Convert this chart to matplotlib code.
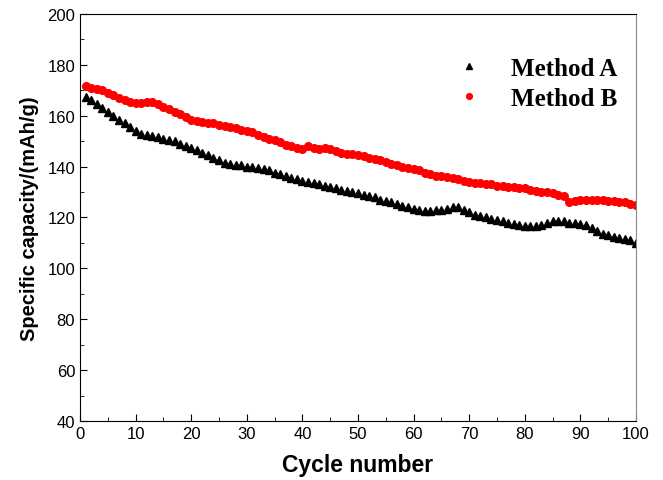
import matplotlib
matplotlib.use("Agg")
import matplotlib.pyplot as plt
from matplotlib.ticker import MultipleLocator

cycles = list(range(1, 101))

method_a = [
    167.5, 166, 164.5, 163, 161.5, 160, 158.5, 157, 155.5, 154,
    153, 152.5, 152, 151.5, 151, 150.5, 150, 149, 148, 147.5,
    146.5, 145.5, 144.5, 143.5, 142.5, 141.5, 141, 140.5, 140.5, 140,
    140, 139.5, 139, 138.5, 137.5, 137, 136.5, 135.5, 135, 134.5,
    134, 133.5, 133, 132.5, 132, 131.5, 131, 130.5, 130, 129.5,
    129, 128.5, 128, 127, 126.5, 126, 125.5, 124.5, 124, 123.5,
    123, 122.5, 122.5, 123, 123, 123.5, 124, 124, 123, 122,
    121, 120.5, 120, 119.5, 119, 118.5, 118, 117.5, 117, 116.5,
    116.5, 116.5, 117, 118, 118.5, 118.5, 118.5, 118, 118, 117.5,
    117, 116, 114.5, 113.5, 113, 112.5, 112, 111.5, 111, 110,
]

method_b = [
    171.5, 171, 170.5, 170, 169, 168, 167, 166, 165.5, 165,
    165, 165.5, 165.5, 164.5, 163.5, 162.5, 161.5, 160.5, 159.5, 158.5,
    158, 157.5, 157, 157, 156.5, 156, 155.5, 155, 154.5, 154,
    153.5, 152.5, 151.5, 151, 150.5, 149.5, 148.5, 148, 147.5, 147,
    148, 147.5, 147, 147.5, 147, 146, 145.5, 145, 145, 144.5,
    144, 143.5, 143, 142.5, 142, 141, 140.5, 140, 139.5, 139,
    138.5, 137.5, 137, 136.5, 136.5, 136, 135.5, 135, 134.5, 134,
    133.5, 133.5, 133, 133, 132.5, 132.5, 132, 132, 131.5, 131.5,
    131, 130.5, 130, 130, 129.5, 129, 128.5, 126, 126.5, 127,
    127, 127, 127, 127, 126.5, 126.5, 126, 126, 125.5, 125,
]

fig = plt.figure(figsize=(6.63, 4.81), dpi=100)
ax = fig.add_axes([0.1207, 0.1227, 0.8386, 0.8461])

ax.plot(cycles, method_a, linestyle="none", marker="^", color="black",
        markersize=6, label="Method A")
ax.plot(cycles, method_b, linestyle="none", marker="o", color="red",
        markersize=5.5, label="Method B")

ax.set_xlim(0, 100)
ax.set_ylim(40, 200)
ax.xaxis.set_major_locator(MultipleLocator(10))
ax.xaxis.set_minor_locator(MultipleLocator(5))
ax.yaxis.set_major_locator(MultipleLocator(20))
ax.yaxis.set_minor_locator(MultipleLocator(10))
ax.tick_params(which="both", direction="in", top=False, right=False,
               labelsize=12)
ax.tick_params(which="major", length=5)
ax.tick_params(which="minor", length=3)
for lab in ax.get_xticklabels() + ax.get_yticklabels():
    lab.set_fontfamily("Liberation Sans")
ax.spines["right"].set_color("#888888")

ax.set_xlabel("Cycle number", fontsize=16.5, fontweight="bold",
              family="Liberation Sans", labelpad=9)
ax.set_ylabel("Specific capacity/(mAh/g)", fontsize=14.5, fontweight="bold",
              family="Liberation Sans", labelpad=6)

leg = ax.legend(loc="upper right", bbox_to_anchor=(0.985, 0.92),
                frameon=False, markerscale=0.75,
                prop={"family": "Liberation Serif", "weight": "bold", "size": 18},
                handletextpad=0.7, borderaxespad=0.0, labelspacing=0.3)

plt.savefig("out.png", dpi=100)
